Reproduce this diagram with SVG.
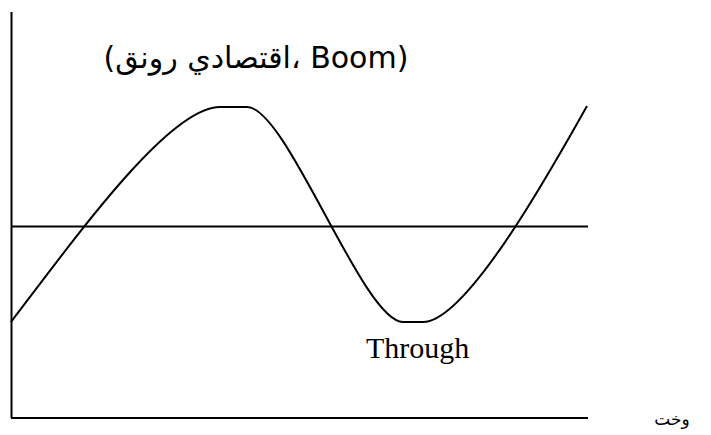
<svg xmlns="http://www.w3.org/2000/svg" width="711" height="435" viewBox="0 0 711 435">
<style>
.ln{stroke:#000;stroke-width:2;fill:none}
.ar{font-family:"DejaVu Sans","Noto Sans",sans-serif;fill:#000}
.tm{font-family:"Liberation Serif","Times New Roman",serif;fill:#000}
</style>
<rect width="711" height="435" fill="#fff"/>
<g id="axes">
<line class="ln" x1="11.5" y1="12" x2="11.5" y2="418"/>
<line class="ln" x1="11" y1="418" x2="588" y2="418"/>
</g>
<g id="midline">
<line class="ln" x1="11" y1="226.5" x2="588" y2="226.5"/>
</g>
<g id="curve">
<path class="ln" d="M11,322 C81,230 170,107 220,107 L247,107 C287,107 363,322 403,322 L423,322 C468,322 557,158.8 587,106"/>
</g>
<g id="boom">
<text class="ar" x="256" y="68" font-size="30" text-anchor="middle">(اقتصادي رونق، Boom)</text>
</g>
<g id="trough">
<text class="tm" x="366" y="358" font-size="30">Through</text>
</g>
<g id="time">
<text class="ar" x="672" y="425" font-size="17" text-anchor="middle">وخت</text>
</g>
</svg>
